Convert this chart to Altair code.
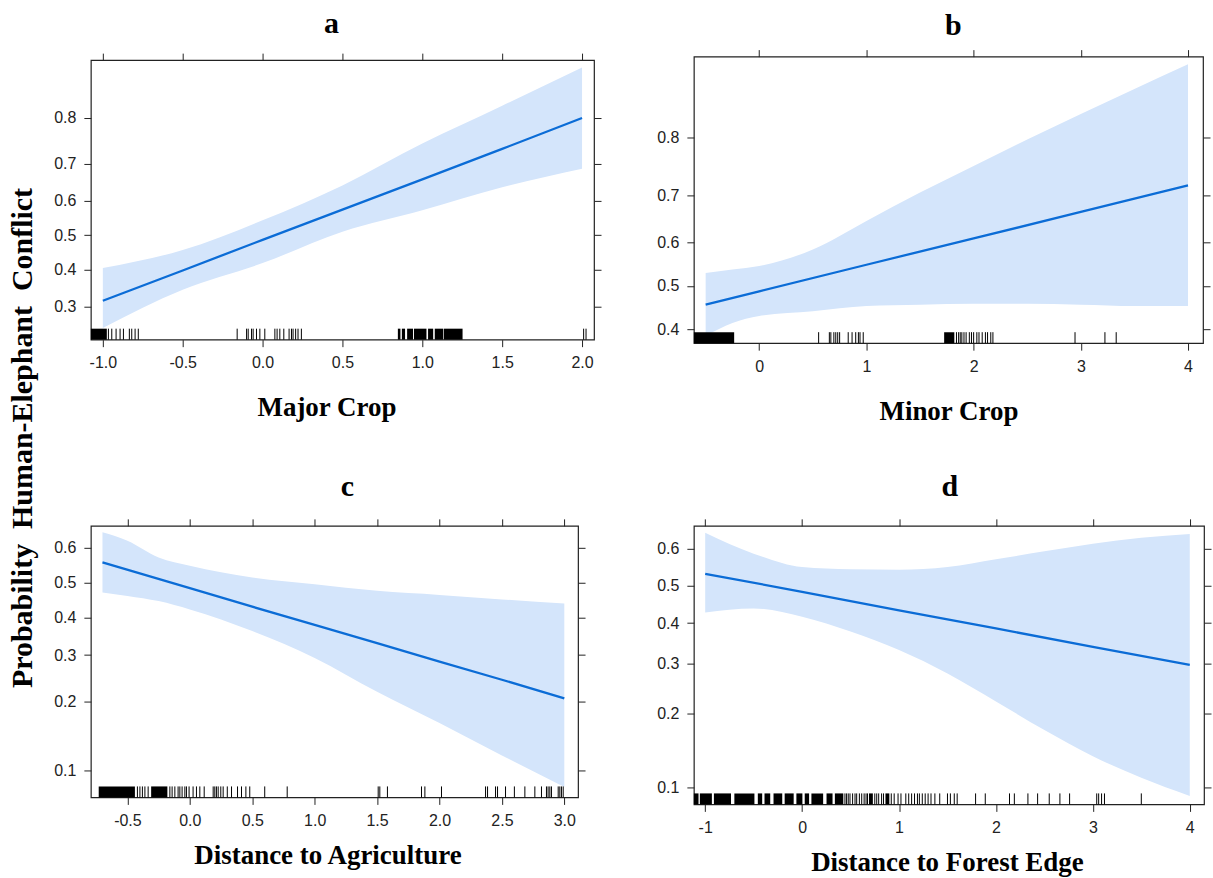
import altair as alt
import numpy as np
import pandas as pd

# ---------------- data (probabilities) ----------------
# Panel a: Major Crop
a_fit_x = [-1.0, -0.5, 0.0, 0.5, 1.0, 1.5, 2.0]
a_fit = [0.315, 0.397, 0.486, 0.575, 0.659, 0.735, 0.800]
a_band_x = [-1.0, -0.5, 0.0, 0.5, 1.0, 1.5, 2.0]
a_hi = [0.404, 0.456, 0.544, 0.643, 0.747, 0.822, 0.879]
a_lo = [0.250, 0.344, 0.418, 0.510, 0.573, 0.638, 0.687]
a_rug = [-0.965, -0.944, -0.917, -0.892, -0.871, -0.834, -0.819, -0.798, -0.778,
         -0.159, -0.10, -0.09, -0.069, -0.059, -0.038, -0.017, 0.014, 0.077, 0.091,
         0.108, 0.133, 0.166, 0.181, 0.191, 0.207, 0.222, 0.243, 2.01, 2.025]
a_rug_start = [-1.075, 0.847, 0.872, 0.905, 0.948, 1.036, 1.078, 1.134]
a_rug_end = [-0.975, 0.863, 0.892, 0.942, 1.026, 1.068, 1.130, 1.252]

# Panel b: Minor Crop
b_fit_x = [-0.5, 0.0, 1.0, 2.0, 3.0, 4.0]
b_fit = [0.456, 0.487, 0.549, 0.609, 0.666, 0.719]
b_band_x = [-0.5, -0.25, 0.0, 0.5, 1.0, 1.5, 2.0, 2.5, 3.0, 3.5, 4.0]
b_hi = [0.530, 0.538, 0.546, 0.584, 0.647, 0.705, 0.754, 0.797, 0.833, 0.863, 0.888]
b_lo = [0.385, 0.414, 0.430, 0.441, 0.453, 0.456, 0.458, 0.458, 0.456, 0.453, 0.453]
b_rug = [0.554, 0.654, 0.668, 0.696, 0.714, 0.732, 0.75, 0.83, 0.866, 0.90, 0.925,
         0.94, 0.97, 1.84, 1.86, 1.875, 1.89, 1.91, 1.93, 1.96, 1.98, 2.0, 2.03,
         2.05, 2.08, 2.11, 2.13, 2.16, 2.18, 2.946, 3.225, 3.33]
b_rug_start = [-0.61, 1.725]
b_rug_end = [-0.234, 1.82]

# Panel c: Distance to Agriculture
c_fit_x = [-0.7, 0.0, 0.5, 1.0, 1.5, 2.0, 2.5, 3.0]
c_fit = [0.559, 0.484, 0.430, 0.379, 0.330, 0.284, 0.243, 0.205]
c_band_x = [-0.7, -0.5, -0.25, 0.0, 0.5, 1.0, 1.5, 2.0, 2.5, 3.0]
c_hi = [0.643, 0.620, 0.573, 0.549, 0.515, 0.495, 0.476, 0.464, 0.451, 0.439]
c_lo = [0.471, 0.461, 0.446, 0.422, 0.362, 0.293, 0.218, 0.162, 0.117, 0.084]
c_rug = [-0.42, -0.40, -0.38, -0.36, -0.334, -0.16, -0.142, -0.12, -0.094, -0.08,
         -0.062, -0.04, -0.027, -0.006, 0.026, 0.053, 0.08, 0.115, 0.187, 0.2,
         0.213, 0.227, 0.248, 0.267, 0.3, 0.334, 0.382, 0.414, 0.449, 0.48, 0.60,
         0.78, 1.509, 1.522, 1.583, 1.856, 1.883, 2.016, 2.369, 2.385, 2.449,
         2.465, 2.529, 2.6, 2.684, 2.764, 2.817, 2.857, 2.87, 2.884, 2.897, 2.951,
         2.964, 2.977, 2.991]
c_rug_start = [-0.73, -0.31]
c_rug_end = [-0.44, -0.18]

# Panel d: Distance to Forest Edge
d_fit_x = [-1.0, 0.0, 1.0, 2.0, 3.0, 4.0]
d_fit = [0.533, 0.484, 0.434, 0.386, 0.340, 0.297]
d_band_x = [-1.0, -0.5, 0.0, 0.5, 1.0, 1.5, 2.0, 2.5, 3.0, 3.5, 4.0]
d_hi = [0.641, 0.587, 0.551, 0.545, 0.544, 0.551, 0.572, 0.593, 0.613, 0.628, 0.638]
d_lo = [0.428, 0.439, 0.417, 0.378, 0.332, 0.278, 0.221, 0.172, 0.135, 0.110, 0.092]
d_rug = [0.442, 0.459, 0.476, 0.494, 0.521, 0.546, 0.563, 0.591, 0.615, 0.64, 0.66,
         0.675, 0.75, 0.77, 0.79, 0.82, 0.84, 0.92, 0.95, 0.99, 1.02, 1.07, 1.1,
         1.13, 1.16, 1.19, 1.21, 1.24, 1.27, 1.3, 1.33, 1.37, 1.42, 1.5, 1.53,
         1.57, 1.6, 1.79, 1.89, 2.14, 2.19, 2.33, 2.43, 2.55, 2.66, 2.76, 3.04,
         3.06, 3.09, 3.12, 3.5]
d_rug_start = [-1.117, -1.055, -0.910, -0.699, -0.457, -0.388, -0.295, -0.180,
               -0.059, 0.027, 0.096, 0.252, 0.338, 0.69, 0.86]
d_rug_end = [-1.069, -0.931, -0.734, -0.492, -0.412, -0.329, -0.205, -0.087,
             0.003, 0.072, 0.217, 0.314, 0.425, 0.73, 0.90]

Y_TITLE = "Probability\u00a0 Human-Elephant\u00a0 Conflict"

BAND = "#d4e5fb"
LINE = "#0b6cd6"
SERIF = "Liberation Serif"
SANS = "Liberation Sans"


def logit(p):
    p = np.asarray(p, dtype=float)
    return np.log(p / (1 - p))


def panel(fx, fy, bx, lo, hi, rug, rs, re, xdom, ydom, xticks, yticks, xfmt,
          w, h, title, title_dx, title_off, xtitle, xtitle_dx, xtitle_y,
          ytitle=False):
    fit_df = pd.DataFrame({"x": fx, "fit": logit(fy)})
    band_df = pd.DataFrame({"x": bx, "lo": logit(lo), "hi": logit(hi)})
    rug_df = pd.DataFrame({"v": rug})
    blk_df = pd.DataFrame({"s": rs, "e": re})
    ttl_df = pd.DataFrame({"t": [title]})
    xs = alt.Scale(domain=xdom, nice=False, zero=False)
    ylog = logit(ydom)
    ys = alt.Scale(domain=[float(ylog[0]), float(ylog[1])], nice=False, zero=False)
    yvals = [float(v) for v in logit(yticks)]
    xlab = "replace(format(datum.value, '%s'), '\u2212', '-')" % xfmt
    ylab = "format(1/(1+exp(-datum.value)), '.1f')"

    yaxis_kw = dict(orient="left", values=yvals, labelExpr=ylab)
    if ytitle:
        yaxis_kw.update(title=Y_TITLE, titleAngle=270, titleX=-59, titleY=378,
                        titleAlign="center", titleBaseline="alphabetic",
                        titleFont=SERIF, titleFontSize=30, titleFontWeight="bold",
                        titleColor="black")
    else:
        yaxis_kw.update(title=None)

    band = alt.Chart(band_df).mark_area(color=BAND, interpolate="monotone", clip=True).encode(
        x=alt.X("x:Q", scale=xs, axis=alt.Axis(
            orient="bottom", values=xticks, labelExpr=xlab, title=xtitle,
            titleX=w / 2 + xtitle_dx, titleY=xtitle_y, titleAlign="center",
            titleBaseline="alphabetic", titleFont=SERIF, titleFontSize=27,
            titleFontWeight="bold", titleColor="black")),
        y=alt.Y("lo:Q", scale=ys, axis=alt.Axis(**yaxis_kw)),
        y2="hi:Q",
    )
    line = alt.Chart(fit_df).mark_line(color=LINE, strokeWidth=2.3, clip=True).encode(
        x=alt.X("x:Q", scale=xs, axis=alt.Axis(orient="top", values=xticks, labels=False, title=None)),
        y=alt.Y("fit:Q", scale=ys, axis=alt.Axis(orient="right", values=yvals, labels=False, title=None)),
    )
    blocks = alt.Chart(blk_df).mark_rect(color="black").encode(
        x=alt.X("s:Q", scale=xs, axis=None),
        x2="e:Q",
        y=alt.value(h - 11),
        y2=alt.value(h),
    )
    ticks = alt.Chart(rug_df).mark_rule(color="black", strokeWidth=1).encode(
        x=alt.X("v:Q", scale=xs, axis=None),
        y=alt.value(h - 11),
        y2=alt.value(h),
    )
    ttl = alt.Chart(ttl_df).mark_text(
        font=SERIF, fontSize=30, fontWeight="bold", color="black",
        align="center", baseline="alphabetic",
    ).encode(text="t:N", x=alt.value(w / 2 + title_dx), y=alt.value(-title_off))
    return alt.layer(band, line, blocks, ticks, ttl).resolve_axis(
        x="independent", y="independent"
    ).properties(width=w, height=h)


pa = panel(a_fit_x, a_fit, a_band_x, a_lo, a_hi, a_rug, a_rug_start, a_rug_end,
           [-1.075, 2.075], [0.225, 0.888], [-1.0, -0.5, 0.0, 0.5, 1.0, 1.5, 2.0],
           [0.3, 0.4, 0.5, 0.6, 0.7, 0.8], ".1f", 504, 280, "a", -11, 27,
           "Major Crop", -16, 76, ytitle=True)
pb = panel(b_fit_x, b_fit, b_band_x, b_lo, b_hi, b_rug, b_rug_start, b_rug_end,
           [-0.61, 4.14], [0.369, 0.895], [0, 1, 2, 3, 4],
           [0.4, 0.5, 0.6, 0.7, 0.8], "d", 510, 287, "b", 5, 22,
           "Minor Crop", 0, 76)
pc = panel(c_fit_x, c_fit, c_band_x, c_lo, c_hi, c_rug, c_rug_start, c_rug_end,
           [-0.793, 3.11], [0.075, 0.660], [-0.5, 0.0, 0.5, 1.0, 1.5, 2.0, 2.5, 3.0],
           [0.1, 0.2, 0.3, 0.4, 0.5, 0.6], ".1f", 488, 272, "c", 13, 30,
           "Distance to Agriculture", -7, 66)
pd_ = panel(d_fit_x, d_fit, d_band_x, d_lo, d_hi, d_rug, d_rug_start, d_rug_end,
            [-1.117, 4.147], [0.0846, 0.658], [-1, 0, 1, 2, 3, 4],
            [0.1, 0.2, 0.3, 0.4, 0.5, 0.6], "d", 511, 279, "d", 1, 30,
            "Distance to Forest Edge", -2, 66)

chart = alt.concat(
    pa, pb, pc, pd_, columns=2,
    spacing={"row": 183, "column": 100},
    bounds="flush", align="each", center={"row": True, "column": False},
).properties(
    padding={"left": 7, "top": 7, "right": 0, "bottom": 0},
    background="white",
).configure_view(
    stroke="#222", strokeWidth=1.2
).configure_axis(
    domain=False, tickColor="#222", tickSize=7, tickWidth=1,
    labelFont=SANS, labelFontSize=16, labelColor="#222", labelPadding=8,
    grid=False,
)

chart.save("out.html", embed_options={"renderer": "svg", "actions": False})
